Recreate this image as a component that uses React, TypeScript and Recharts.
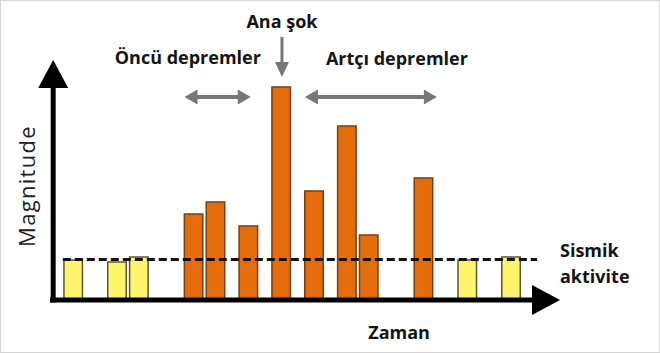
import React from "react";
import { BarChart, Bar, XAxis, YAxis, Cell, ReferenceLine, ReferenceDot } from "recharts";

// time slots of each event and its magnitude (arbitrary units)
const times = [0, 4, 6, 11, 13, 16, 19, 22, 25, 27, 32, 36, 40];
const magnitudes = [1.67, 1.58, 1.79, 3.58, 4.08, 3.08, 8.88, 4.54, 7.25, 2.71, 5.08, 1.67, 1.79];
const kinds = ["bg", "bg", "bg", "fore", "fore", "fore", "main", "after", "after", "after", "after", "bg", "bg"];
const seismicLevel = 1.69;

const data = times.map((t, i) => ({ t, m: magnitudes[i], kind: kinds[i] }));

const FONT = "'Open Sans', 'DejaVu Sans', sans-serif";

type ArrowProps = {
  x1?: number;
  y1?: number;
  x2?: number;
  y2?: number;
  color: string;
  width: number;
  headLen: number;
  headHalf: number;
  both?: boolean;
};

const Arrow = ({ x1 = 0, y1 = 0, x2 = 0, y2 = 0, color, width, headLen, headHalf, both }: ArrowProps) => {
  const len = Math.hypot(x2 - x1, y2 - y1) || 1;
  const dx = (x2 - x1) / len;
  const dy = (y2 - y1) / len;
  const nx = -dy;
  const ny = dx;
  const head = (tx: number, ty: number, sx: number, sy: number) => {
    const bx = tx - sx * headLen;
    const by = ty - sy * headLen;
    return `${tx},${ty} ${bx + nx * headHalf},${by + ny * headHalf} ${bx - nx * headHalf},${by - ny * headHalf}`;
  };
  const sx = both ? x1 + dx * (headLen - 1) : x1;
  const sy = both ? y1 + dy * (headLen - 1) : y1;
  const ex = x2 - dx * (headLen - 1);
  const ey = y2 - dy * (headLen - 1);
  return (
    <g>
      <line x1={sx} y1={sy} x2={ex} y2={ey} stroke={color} strokeWidth={width} />
      <polygon points={head(x2, y2, dx, dy)} fill={color} />
      {both && <polygon points={head(x1, y1, -dx, -dy)} fill={color} />}
    </g>
  );
};

const fillOf = (k: string) => (k === "bg" ? "#FFF56B" : "#E46C0A");
const strokeOf = (k: string) => (k === "bg" ? "#5a5628" : "#7a3f10");

const boldLabel = (value: string, position: any = "center") => ({
  value,
  position,
  offset: 0,
  fill: "#141414",
  fontSize: 18,
  fontWeight: 700,
  fontFamily: FONT,
});

const App = () => {
  return (
    <div
      style={{
        position: "absolute",
        left: 0,
        top: 0,
        width: 660,
        height: 353,
        boxSizing: "border-box",
        border: "1px solid #d6d6d6",
        background: "#fff",
      }}
    >
      <div style={{ position: "absolute", left: -1, top: -1 }}>
        <BarChart
          width={660}
          height={353}
          data={data}
          barSize={18.5}
          margin={{ top: 60, right: 100, bottom: 53, left: 51 }}
        >
          <XAxis dataKey="t" type="number" domain={[-2, 44.5]} hide />
          <YAxis domain={[0, 10]} hide />
          <Bar dataKey="m" isAnimationActive={false} strokeWidth={1.5}>
            {data.map((d, i) => (
              <Cell key={i} fill={fillOf(d.kind)} stroke={strokeOf(d.kind)} />
            ))}
          </Bar>

          {/* background seismic level */}
          <ReferenceLine
            segment={[{ x: -0.92, y: seismicLevel }, { x: 42.4, y: seismicLevel }]}
            stroke="#111"
            strokeWidth={3}
            strokeDasharray="8 4"
            ifOverflow="visible"
          />

          {/* axes with arrow heads */}
          <ReferenceLine
            segment={[{ x: -2.09, y: 0 }, { x: 44.5, y: 0 }]}
            ifOverflow="visible"
            shape={(p: any) => <Arrow {...p} color="#000" width={5} headLen={28} headHalf={15} />}
          />
          <ReferenceLine
            segment={[{ x: -1.8, y: -0.1 }, { x: -1.8, y: 10 }]}
            ifOverflow="visible"
            shape={(p: any) => <Arrow {...p} color="#000" width={5} headLen={28} headHalf={15} />}
          />

          {/* annotation arrows */}
          <ReferenceLine
            segment={[{ x: 10.2, y: 8.46 }, { x: 16.25, y: 8.46 }]}
            ifOverflow="visible"
            shape={(p: any) => <Arrow {...p} both color="#777" width={4} headLen={13} headHalf={7.5} />}
          />
          <ReferenceLine
            segment={[{ x: 21.2, y: 8.46 }, { x: 33.25, y: 8.46 }]}
            ifOverflow="visible"
            shape={(p: any) => <Arrow {...p} both color="#777" width={4} headLen={13} headHalf={7.5} />}
          />
          <ReferenceLine
            segment={[{ x: 19.1, y: 10.96 }, { x: 19.1, y: 9.29 }]}
            ifOverflow="visible"
            shape={(p: any) => <Arrow {...p} color="#777" width={3} headLen={15} headHalf={7} />}
          />

          {/* texts */}
          <ReferenceDot x={19.1} y={11.6} r={0} stroke="none" ifOverflow="visible" label={boldLabel("Ana şok")} />
          <ReferenceDot x={10.5} y={10.1} r={0} stroke="none" ifOverflow="visible" label={boldLabel("Öncü depremler")} />
          <ReferenceDot x={29.6} y={10.05} r={0} stroke="none" ifOverflow="visible" label={boldLabel("Artçı depremler")} />
          <ReferenceDot x={29.8} y={-1.37} r={0} stroke="none" ifOverflow="visible" label={boldLabel("Zaman")} />
          <ReferenceDot x={44.5} y={2.04} r={0} stroke="none" ifOverflow="visible" label={boldLabel("Sismik", "right")} />
          <ReferenceDot x={44.5} y={0.96} r={0} stroke="none" ifOverflow="visible" label={boldLabel("aktivite", "right")} />
          <ReferenceDot
            x={-4.2}
            y={4.75}
            r={0}
            stroke="none"
            ifOverflow="visible"
            label={{
              value: "Magnitude",
              position: "center",
              angle: -90,
              fill: "#222",
              fontSize: 22,
              fontFamily: FONT,
              letterSpacing: 1.3,
            }}
          />
        </BarChart>
      </div>
    </div>
  );
};

export default App;
